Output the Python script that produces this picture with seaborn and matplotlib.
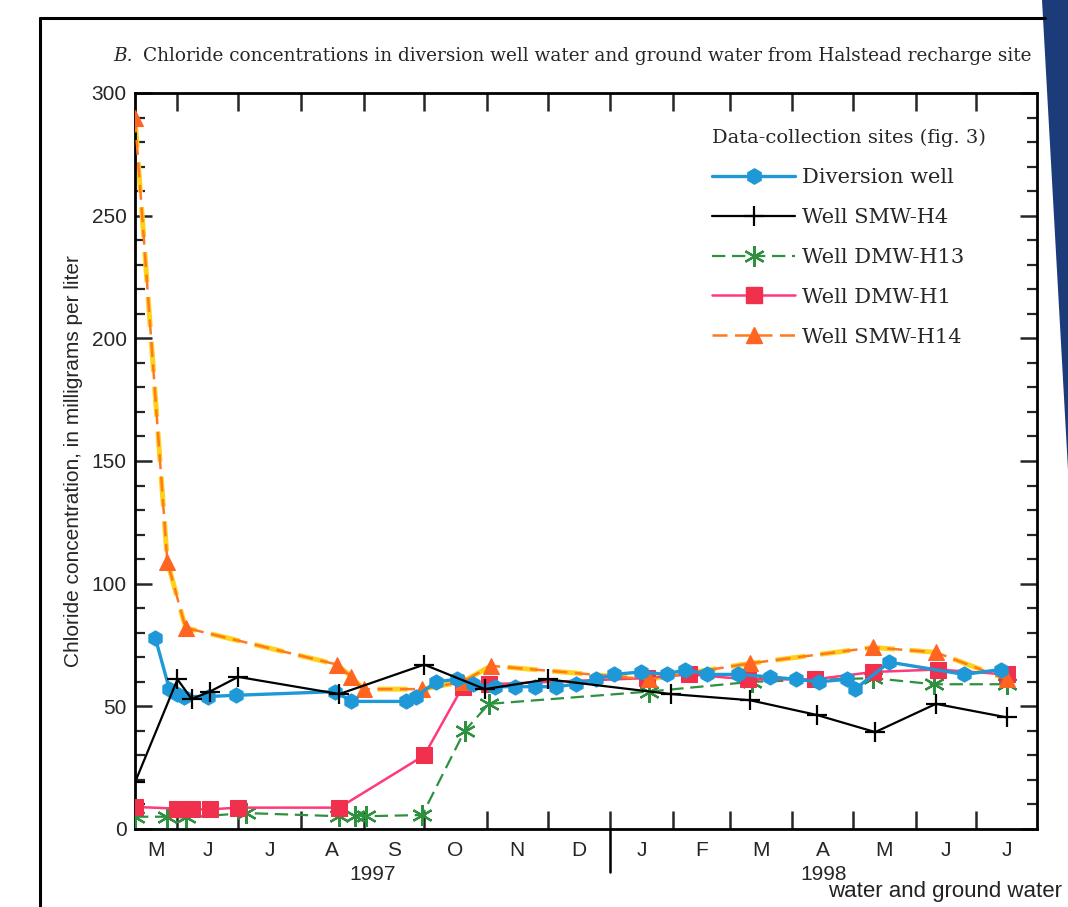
import matplotlib
matplotlib.use("Agg")
import matplotlib.pyplot as plt
import matplotlib.dates as mdates
from matplotlib.lines import Line2D
from matplotlib.patches import Polygon
from matplotlib.ticker import MultipleLocator, FixedLocator, FixedFormatter, NullFormatter
import matplotlib.transforms as mtransforms
import pandas as pd
import seaborn as sns

# ---------------- chloride concentrations, mg/L ----------------
diversion_dates = ["1997-05-21", "1997-05-28", "1997-06-01", "1997-06-04", "1997-06-16",
                   "1997-06-30", "1997-08-18", "1997-08-26", "1997-09-22", "1997-09-27",
                   "1997-10-07", "1997-10-17", "1997-10-25", "1997-11-05", "1997-11-15",
                   "1997-11-25", "1997-12-05", "1997-12-15", "1997-12-25", "1998-01-03",
                   "1998-01-16", "1998-01-29", "1998-02-07", "1998-02-18", "1998-03-05",
                   "1998-03-21", "1998-04-03", "1998-04-14", "1998-04-28", "1998-05-02",
                   "1998-05-19", "1998-06-25", "1998-07-13"]
diversion_cl = [78, 57, 55, 54, 54, 54.5, 56, 52, 52, 54,
                60, 61, 59, 58, 58, 58, 58, 59, 61, 63,
                64, 63, 65, 63, 63, 62, 61, 60, 61, 57,
                68, 63, 65]

smw_h4_dates = ["1997-05-11", "1997-06-01", "1997-06-08", "1997-06-17", "1997-07-01",
                "1997-08-20", "1997-10-01", "1997-10-31", "1997-12-01", "1998-01-31",
                "1998-03-11", "1998-04-13", "1998-05-12", "1998-06-11", "1998-07-16"]
smw_h4_cl = [19, 61, 53, 56, 62, 55, 67, 57, 61, 55, 52.5, 46.5, 39.5, 51, 45.5]

dmw_h13_dates = ["1997-05-11", "1997-05-27", "1997-06-05", "1997-07-05", "1997-08-20",
                 "1997-08-28", "1997-09-02", "1997-09-30", "1997-10-21", "1997-11-02",
                 "1998-01-20", "1998-03-12", "1998-05-11", "1998-06-10", "1998-07-16"]
dmw_h13_cl = [5, 5, 4.7, 6.5, 5.2, 5.5, 5.2, 5.7, 40, 51, 56, 60, 61.5, 59, 59]

dmw_h1_dates = ["1997-05-11", "1997-06-01", "1997-06-08", "1997-06-17", "1997-07-01",
                "1997-08-20", "1997-10-01", "1997-10-20", "1997-11-02", "1998-01-19",
                "1998-02-09", "1998-03-10", "1998-04-12", "1998-05-11", "1998-06-12",
                "1998-07-16"]
dmw_h1_cl = [9, 8.3, 8, 8, 8.7, 8.7, 30, 58, 59, 61.5, 63, 61, 61, 64, 65, 63]

smw_h14_dates = ["1997-05-11", "1997-05-27", "1997-06-05", "1997-08-19", "1997-08-26",
                 "1997-09-01", "1997-09-30", "1997-10-20", "1997-11-03", "1998-01-20",
                 "1998-03-11", "1998-05-11", "1998-06-11", "1998-07-16"]
smw_h14_cl = [290, 109, 82, 67, 62, 57, 57, 60, 66.5, 61, 67.5, 74, 72, 61]

site_names = ["Diversion well", "Well SMW-H4", "Well DMW-H13", "Well DMW-H1", "Well SMW-H14"]
month_letters = ["M", "J", "J", "A", "S", "O", "N", "D", "J", "F", "M", "A", "M", "J", "J"]
year_labels = ["1997", "1998"]

x_start = pd.Timestamp("1997-05-11")
x_end = pd.Timestamp("1998-07-31")
year_break = pd.Timestamp("1998-01-01")

# ---------------- styling ----------------
sns.set_style("ticks")
plt.rcParams["font.family"] = ["Liberation Sans", "DejaVu Sans"]
SERIF = ["DejaVu Serif", "Liberation Serif"]

styles = {
    "Diversion well": dict(color="#1e98d6", marker="h", markersize=11, linewidth=2.4,
                           linestyle="-", markeredgecolor="#1e98d6"),
    "Well SMW-H4": dict(color="black", marker="+", markersize=15, linewidth=1.6,
                        linestyle="-", markeredgewidth=1.6, markeredgecolor="black"),
    "Well DMW-H13": dict(color="#2e9140", marker=(6, 2, 0), markersize=15, linewidth=1.6,
                         linestyle=(0, (6, 3)), markeredgewidth=1.6, markeredgecolor="#2e9140"),
    "Well DMW-H1": dict(color="#ff3a78", marker="s", markersize=11, linewidth=1.8,
                        linestyle="-", markerfacecolor="#f0304c", markeredgecolor="#f0304c"),
    "Well SMW-H14": dict(color="#ff7a1f", marker="^", markersize=11, linewidth=1.8,
                         linestyle=(0, (6, 3)), markerfacecolor="#ff6420",
                         markeredgecolor="#ff6420"),
}
series = {
    "Diversion well": (diversion_dates, diversion_cl),
    "Well SMW-H4": (smw_h4_dates, smw_h4_cl),
    "Well DMW-H13": (dmw_h13_dates, dmw_h13_cl),
    "Well DMW-H1": (dmw_h1_dates, dmw_h1_cl),
    "Well SMW-H14": (smw_h14_dates, smw_h14_cl),
}

fig = plt.figure(figsize=(10.68, 9.07), dpi=100)
ax = fig.add_axes([0.1264, 0.0860, 0.8446, 0.8115])

# yellow under-stroke of the SMW-H14 dashes
d14, v14 = series["Well SMW-H14"]
sns.lineplot(x=pd.to_datetime(d14), y=v14, ax=ax, estimator=None, sort=False,
             color="#ffd21a", linewidth=3.6, linestyle=(0, (6, 3)), legend=False, zorder=2)

draw_order = ["Well DMW-H13", "Well DMW-H1", "Well SMW-H14", "Diversion well", "Well SMW-H4"]
for name in draw_order:
    dates, vals = series[name]
    sns.lineplot(x=pd.to_datetime(dates), y=vals, ax=ax, estimator=None, sort=False,
                 legend=False, zorder=3, **styles[name])

# ---------------- axes ----------------
ax.set_xlim(mdates.date2num(x_start), mdates.date2num(x_end))
ax.set_ylim(0, 300)
ax.set_xlabel("")
ax.set_ylabel("Chloride concentration, in milligrams per liter", fontsize=15)
ax.yaxis.set_label_coords(-0.058, 0.5)

for sp in ax.spines.values():
    sp.set_linewidth(2.0)
    sp.set_color("black")
    sp.set_visible(True)

ax.yaxis.set_major_locator(MultipleLocator(50))
ax.yaxis.set_minor_locator(MultipleLocator(10))
ax.tick_params(axis="y", which="major", direction="in", length=12, width=1.8,
               left=True, right=True, labelsize=15, pad=6)
ax.tick_params(axis="y", which="minor", direction="in", length=7, width=1.6,
               left=True, right=True)

# month boundaries as ticks, month initials centred in each month
starts = pd.date_range("1997-05-01", periods=len(month_letters) + 1, freq="MS")
mids = []
for a, b in zip(starts[:-1], starts[1:]):
    lo, hi = max(a, x_start), min(b, x_end)
    mids.append(lo + (hi - lo) / 2)
ax.xaxis.set_major_locator(mdates.MonthLocator())
ax.xaxis.set_major_formatter(NullFormatter())
ax.xaxis.set_minor_locator(FixedLocator(mdates.date2num(mids)))
ax.xaxis.set_minor_formatter(FixedFormatter(month_letters))
ax.tick_params(axis="x", which="major", direction="in", length=13, width=1.8,
               top=True, bottom=True)
ax.tick_params(axis="x", which="minor", length=0, labelsize=15, pad=9,
               top=False, labeltop=False)

blend = mtransforms.blended_transform_factory(ax.transData, ax.transAxes)
xb = mdates.date2num(year_break)
ax.add_line(Line2D([xb, xb], [0, -0.058], transform=blend, color="black",
                   linewidth=1.8, clip_on=False))
year_spans = [(x_start, year_break), (year_break, x_end)]
for lab, (a, b) in zip(year_labels, year_spans):
    ax.text(mdates.date2num(a + (b - a) / 2), -0.062, lab, transform=blend,
            ha="center", va="center", fontsize=15)

# ---------------- legend ----------------
handles = [Line2D([], [], **styles[n]) for n in site_names]
leg = ax.legend(handles, site_names, title="Data-collection sites (fig. 3)",
                loc="upper right", bbox_to_anchor=(0.955, 0.965), frameon=False,
                prop={"family": SERIF, "size": 15},
                title_fontproperties={"family": SERIF, "size": 14},
                handlelength=4.0, handletextpad=0.3, labelspacing=1.0,
                borderpad=0, alignment="left", markerscale=1.0)

# ---------------- title, page ----------------
fig.text(113 / 1068, 1 - 56 / 907, "B.", fontsize=13.3, family=SERIF, style="italic",
         ha="left", va="center")
fig.text(143 / 1068, 1 - 56 / 907,
         "Chloride concentrations in diversion well water and ground water from Halstead recharge site",
         fontsize=13.3, family=SERIF, ha="left", va="center")

fig.add_artist(Line2D([40 / 1068, 1045 / 1068], [1 - 18 / 907, 1 - 18 / 907],
                      transform=fig.transFigure, color="black", linewidth=2.2))
fig.add_artist(Line2D([40 / 1068, 40 / 1068], [1 - 18 / 907, 0],
                      transform=fig.transFigure, color="black", linewidth=2.2))
fig.add_artist(Polygon([[1042 / 1068, 1], [1, 1], [1, 1 - 470 / 907]], closed=True,
                       transform=fig.transFigure, facecolor="#1b3c78", edgecolor="none"))
fig.text(1062 / 1068, 0.006, "water and ground water", fontsize=16, ha="right", va="bottom",
         color="#222222")

fig.savefig("out.png", dpi=100)
